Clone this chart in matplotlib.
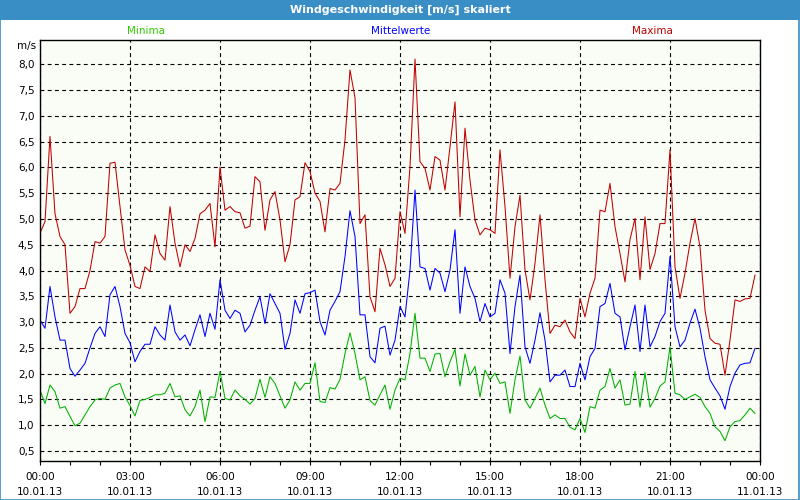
import numpy as np
import pandas as pd
import matplotlib
matplotlib.use("Agg")
import matplotlib.pyplot as plt
from matplotlib.patches import Rectangle

# Messwerte alle 10 Minuten, 10.01.13 00:00 bis 23:50
maxima = [
    4.72, 4.95, 6.6, 5.1, 4.66, 4.5, 3.17, 3.3, 3.65, 3.65, 4.0, 4.56, 4.53, 4.66, 6.08, 6.1, 5.24, 4.4,
    4.1, 3.69, 3.65, 4.07, 3.98, 4.69, 4.33, 4.2, 5.24, 4.53, 4.07, 4.5, 4.37, 4.62, 5.1, 5.17, 5.3, 4.46,
    6.01, 5.17, 5.24, 5.14, 5.12, 4.82, 4.86, 5.82, 5.72, 4.78, 5.37, 5.53, 4.98, 4.17, 4.5, 5.37, 5.43, 6.09,
    5.92, 5.5, 5.34, 4.75, 5.59, 5.56, 5.69, 6.53, 7.89, 7.35, 4.91, 5.08, 3.49, 3.2, 4.43, 4.11, 3.69, 3.85,
    5.14, 4.72, 6.01, 8.1, 6.11, 5.98, 5.56, 6.21, 6.14, 5.56, 6.4, 7.27, 5.04, 6.76, 5.75, 4.98, 4.69, 4.82,
    4.79, 4.72, 6.34, 5.24, 3.85, 4.85, 5.46, 4.01, 3.43, 4.14, 5.08, 3.82, 2.78, 2.94, 2.91, 3.04, 2.81, 2.68,
    3.46, 3.1, 3.56, 3.85, 5.17, 5.14, 5.69, 4.85, 4.33, 3.78, 4.6, 5.01, 3.82, 5.04, 4.02, 4.33, 4.91, 4.91,
    6.34, 4.07, 3.46, 3.95, 4.53, 5.01, 4.46, 3.23, 2.68, 2.59, 2.57, 1.97, 2.65, 3.43, 3.4, 3.45, 3.46, 3.91,
]
mittelwerte = [
    3.04, 2.88, 3.69, 3.1, 2.65, 2.65, 2.1, 1.95, 2.07, 2.2, 2.5, 2.78, 2.91, 2.72, 3.53, 3.69, 3.3, 2.78,
    2.6, 2.23, 2.43, 2.57, 2.57, 2.91, 2.75, 2.65, 3.33, 2.81, 2.65, 2.75, 2.54, 2.85, 3.14, 2.72, 3.17, 2.86,
    3.82, 3.23, 3.07, 3.23, 3.17, 2.81, 2.94, 3.23, 3.49, 2.97, 3.55, 3.36, 3.17, 2.47, 2.78, 3.43, 3.17, 3.55,
    3.57, 3.62, 3.01, 2.75, 3.23, 3.4, 3.59, 4.27, 5.16, 4.66, 3.14, 3.14, 2.33, 2.21, 2.88, 2.92, 2.36, 2.65,
    3.3, 3.1, 4.01, 5.56, 4.07, 4.04, 3.62, 4.04, 3.95, 3.59, 4.01, 4.79, 3.17, 4.07, 3.69, 3.46, 3.01, 3.36,
    3.1, 3.17, 3.82, 3.56, 2.39, 3.3, 3.91, 2.52, 2.2, 2.65, 3.18, 2.65, 1.84, 1.97, 1.97, 2.07, 1.75, 1.75,
    2.2, 1.88, 2.33, 2.49, 3.3, 3.36, 3.75, 3.17, 3.1, 2.46, 2.91, 3.33, 2.43, 3.33, 2.52, 2.72, 3.01, 3.17,
    4.27, 2.91, 2.52, 2.65, 2.98, 3.25, 2.88, 2.33, 1.88, 1.72, 1.57, 1.31, 1.75, 2.01, 2.17, 2.2, 2.21, 2.49,
]
minima = [
    1.68, 1.42, 1.78, 1.65, 1.33, 1.36, 1.17, 0.99, 1.04, 1.2, 1.36, 1.49, 1.52, 1.5, 1.72, 1.78, 1.81, 1.55,
    1.38, 1.18, 1.48, 1.5, 1.54, 1.59, 1.59, 1.62, 1.81, 1.55, 1.57, 1.3, 1.18, 1.36, 1.68, 1.07, 1.55, 1.54,
    2.04, 1.52, 1.49, 1.68, 1.57, 1.5, 1.41, 1.52, 1.89, 1.54, 1.94, 1.81, 1.57, 1.33, 1.49, 1.84, 1.68, 1.81,
    1.81, 2.21, 1.46, 1.44, 1.73, 1.7, 1.89, 2.39, 2.79, 2.39, 1.88, 1.94, 1.48, 1.39, 1.59, 1.78, 1.31, 1.68,
    1.91, 1.88, 2.39, 3.17, 2.3, 2.3, 2.04, 2.38, 2.39, 1.94, 2.23, 2.47, 1.76, 2.38, 1.97, 2.14, 1.55, 2.07,
    1.88, 2.01, 1.81, 1.84, 1.23, 1.88, 2.34, 1.49, 1.33, 1.52, 1.72, 1.39, 1.13, 1.2, 1.13, 1.13, 0.96, 0.91,
    1.13, 0.86, 1.36, 1.33, 1.68, 1.75, 2.1, 1.72, 1.88, 1.39, 1.41, 2.04, 1.35, 2.02, 1.35, 1.52, 1.76, 1.84,
    2.52, 1.62, 1.59, 1.5, 1.55, 1.6, 1.54, 1.36, 1.23, 0.97, 0.88, 0.7, 0.97, 1.07, 1.09, 1.2, 1.33, 1.23,
]
zeiten = pd.date_range("2013-01-10 00:00", periods=len(maxima), freq="10min")

titel = "Windgeschwindigkeit [m/s] skaliert"
y_ticks = [0.5, 1.0, 1.5, 2.0, 2.5, 3.0, 3.5, 4.0, 4.5, 5.0, 5.5, 6.0, 6.5, 7.0, 7.5, 8.0]
x_ticks = pd.date_range("2013-01-10 00:00", periods=9, freq="3h")
x_minor = pd.date_range("2013-01-10 00:00", periods=25, freq="1h")

ROT = "#C00000"
BLAU = "#0000FF"
GRUEN = "#00B000"
RAHMEN = "#3A8EC6"

plt.rcParams["font.family"] = ["DejaVu Sans"]
plt.rcParams["font.size"] = 7.5

fig = plt.figure(figsize=(8, 5), dpi=100)
fig.patch.set_facecolor("white")

# Titelleiste und Fensterrahmen
fig.patches.append(Rectangle((0, 1 - 20 / 500), 1, 20 / 500, transform=fig.transFigure,
                             facecolor=RAHMEN, edgecolor="none", zorder=0))
fig.patches.append(Rectangle((0.0005, 0.001), 0.998, 0.997, transform=fig.transFigure,
                             facecolor="none", edgecolor=RAHMEN, lw=1.2, zorder=1))
fig.text(0.5, 1 - 10 / 500, titel, ha="center", va="center", color="white",
         fontweight="bold", fontsize=8)

ax = fig.add_axes([40 / 800, 1 - 461 / 500, 720 / 800, 421 / 500])
ax.set_facecolor("#FAFDF6")

ax.plot(zeiten, minima, color=GRUEN, lw=0.75)
ax.plot(zeiten, mittelwerte, color=BLAU, lw=0.75)
ax.plot(zeiten, maxima, color=ROT, lw=0.75)

ax.set_xlim(x_ticks[0], x_ticks[-1])
ax.set_ylim(0.306, 8.47)

ax.set_yticks(y_ticks)
ax.set_yticklabels([f"{v:.1f}".replace(".", ",") for v in y_ticks])
ax.set_xticks(x_ticks)
ax.set_xticklabels([t.strftime("%H:%M\n%d.%m.%y") for t in x_ticks], linespacing=1.6)
ax.set_xticks(x_minor, minor=True)

ax.tick_params(axis="y", length=0, pad=4)
ax.tick_params(axis="x", which="both", direction="out", length=3, width=0.8, pad=5)
ax.grid(True, which="major", color="black", lw=0.8, linestyle=(0, (3.5, 3)))
for s in ax.spines.values():
    s.set_color("black")
    s.set_linewidth(1)

fig.text(36 / 800, 1 - 46 / 500, "m/s", ha="right", va="center")
fig.text(146 / 800, 1 - 31 / 500, "Minima", ha="center", va="center", color="#33CC00")
fig.text(401 / 800, 1 - 31 / 500, "Mittelwerte", ha="center", va="center", color=BLAU)
fig.text(652 / 800, 1 - 31 / 500, "Maxima", ha="center", va="center", color=ROT)

fig.savefig("out.png", dpi=100)
